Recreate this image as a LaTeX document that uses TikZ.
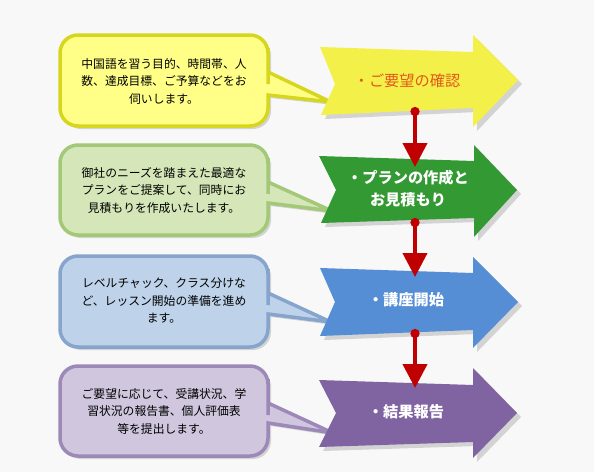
\documentclass[tikz,border=0pt]{standalone}
\usepackage{fontspec}
\setmainfont{Noto Sans CJK JP}
\usetikzlibrary{arrows.meta,shadows}
\definecolor{bg}{HTML}{F8F8F8}
\definecolor{redline}{HTML}{C00000}
\definecolor{yfill}{HTML}{FFFF88}
\definecolor{yring}{HTML}{D6D61E}
\definecolor{gfill}{HTML}{D5E7B8}
\definecolor{gring}{HTML}{A3C878}
\definecolor{bfill}{HTML}{BED2EA}
\definecolor{bring}{HTML}{86A4CC}
\definecolor{pfill}{HTML}{D0C7DF}
\definecolor{pring}{HTML}{9C89B8}
\definecolor{yarrow}{HTML}{F4F04A}
\definecolor{garrow}{HTML}{339933}
\definecolor{barrow}{HTML}{558ED5}
\definecolor{parrow}{HTML}{8064A2}
\definecolor{otext}{HTML}{E2591A}

\begin{document}
\begin{tikzpicture}[x=1pt,y=-1pt]
      \useasboundingbox (0,0) rectangle (594,472);
      \fill[bg] (0,0) rectangle (594,472);
      \tikzset{B/.style = {line width=3.5pt, drop shadow={shadow xshift=3pt,shadow yshift=-3pt,opacity=0.3}}}
      \tikzset{A/.style = {drop shadow={shadow xshift=4pt,shadow yshift=-4pt,opacity=0.3}}}
      \tikzset{T/.style = {align=center, text=black, font=\fontsize{11.8}{17.5}\selectfont}}
      \tikzset{S/.style = {align=center, text=white, font=\fontsize{15.2}{22}\selectfont\bfseries}}
      \tikzset{E/.style = {draw=redline, line width=4pt, {Circle[length=9pt]}-{Triangle[length=24pt,width=24pt]}}}
      % callouts
      \path[B,draw=yring,fill=yfill] (331,102) -- (268,95) -- (268,100) [rounded corners=18pt] -- (268,126) -- (60,126) -- (60,35) -- (268,35) -- (268,66) [sharp corners] -- (268,72) -- cycle;
      \path[B,draw=gring,fill=gfill] (332,211) -- (268,203) -- (268,208) [rounded corners=18pt] -- (268,235) -- (60,235) -- (60,145) -- (268,145) -- (268,176) [sharp corners] -- (268,182) -- cycle;
      \path[B,draw=bring,fill=bfill] (331,322) -- (268,314) -- (268,319) [rounded corners=18pt] -- (268,347) -- (60,347) -- (60,256) -- (268,256) -- (268,287) [sharp corners] -- (268,293) -- cycle;
      \path[B,draw=pring,fill=pfill] (333,433) -- (268,423) -- (268,428) [rounded corners=18pt] -- (268,456) -- (60,456) -- (60,366) -- (268,366) -- (268,397) [sharp corners] -- (268,403) -- cycle;
      \node[T](c1) at (164,81) {中国語を習う目的、時間帯、人\\数、達成目標、ご予算などをお\\伺いします。};
      \node[T](c2) at (164,190) {御社のニーズを踏まえた最適な\\プランをご提案して、同時にお\\見積もりを作成いたします。};
      \node[T](c3) at (164,301) {レベルチャック、クラス分けな\\ど、レッスン開始の準備を進め\\ます。};
      \node[T](c4) at (164,411) {ご要望に応じて、受講状況、学\\習状況の報告書、個人評価表\\等を提出します。};
      % steps
      \fill[A,yarrow] (320,47) -- (473,52) -- (473,35) -- (518,80) -- (473,127) -- (473,108) -- (321,115) -- (335,84) -- cycle;
      \fill[A,garrow] (319,156) -- (474,161) -- (474,145) -- (517,190) -- (474,237) -- (474,218) -- (321,223) -- (336,190) -- cycle;
      \fill[A,barrow] (320,268) -- (473,273) -- (473,257) -- (518,302) -- (473,348) -- (473,330) -- (320,336) -- (335,302) -- cycle;
      \fill[A,parrow] (319,380) -- (473,385) -- (473,368) -- (517,413) -- (473,458) -- (473,442) -- (319,447) -- (336,413) -- cycle;
      \node[S,text=otext,font=\fontsize{15.2}{22}\selectfont](s1) at (407,81) {・ご要望の確認};
      \node[S](s2) at (408,189) {・プランの作成と\\お見積もり};
      \node[S](s3) at (406,300) {・講座開始};
      \node[S](s4) at (406,412) {・結果報告};
      % connectors
      \coordinate (d1) at (415,107);
      \coordinate (d2) at (415,218);
      \coordinate (d3) at (415,329);
      \coordinate (e2) at (415,167);
      \coordinate (e3) at (415,277);
      \coordinate (e4) at (415,388);
      \draw[E](d1) to (e2);
      \draw[E](d2) to (e3);
      \draw[E](d3) to (e4);
\end{tikzpicture}
\end{document}
